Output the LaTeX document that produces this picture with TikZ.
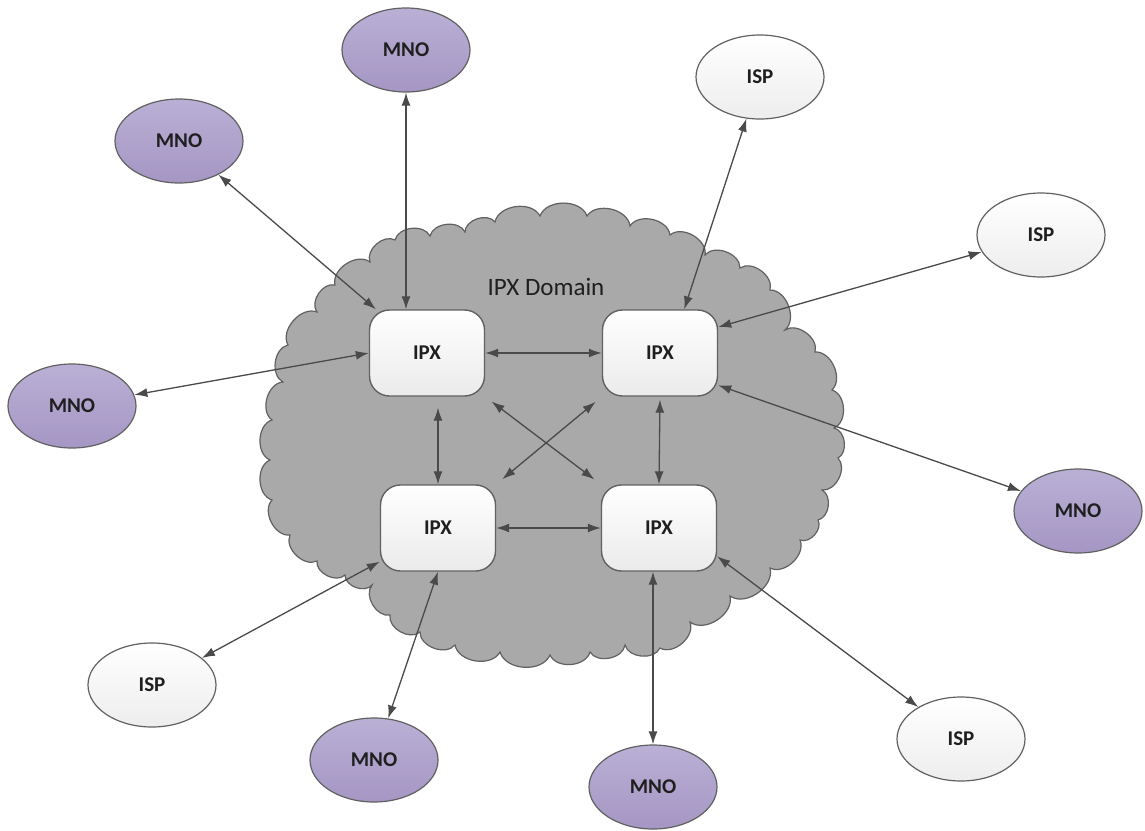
\documentclass[tikz,border=0pt]{standalone}
\usepackage{fontspec}
\setmainfont{Carlito}
\usetikzlibrary{arrows.meta,shapes.geometric}
\definecolor{mnoTop}{HTML}{BAB0D5}
\definecolor{mnoBot}{HTML}{A596C4}
\definecolor{cloudGray}{HTML}{A9A9A9}
\definecolor{lineGray}{HTML}{4A4A4A}
\tikzset{
  mno/.style={ellipse, draw=black!62, line width=1.2pt, top color=mnoTop, bottom color=mnoBot,
    minimum width=128pt, minimum height=84pt, inner sep=0pt, text=black!88,
    font=\fontsize{21}{25}\selectfont\bfseries},
  isp/.style={mno, top color=white, bottom color=black!7},
  ipx/.style={rectangle, rounded corners=20pt, draw=black!62, line width=1.4pt,
    top color=white, bottom color=black!8, minimum width=115pt, minimum height=86pt,
    inner sep=0pt, text=black!88, font=\fontsize{21}{25}\selectfont\bfseries},
  link/.style={<->, >={Latex[length=13pt,width=9pt]}, draw=lineGray, line width=1.3pt},
}

\begin{document}
\begin{tikzpicture}[x=1pt,y=-1pt]
      \useasboundingbox (0,0) rectangle (1145,830);

      % the IPX domain cloud
      \draw [fill=cloudGray, draw=black!62, line width=1.2pt] (317,561)
        \foreach \x/\y in {290/535, 272/500, 270/460, 272/420, 283/382, 288/345, 317/312,
          335/285, 370/262, 395/240, 430/236, 465/232, 495/222, 540/216, 587/216, 630/226,
          670/235, 705/255, 740/268, 770/290, 785/330, 815/352, 832/390, 834/428, 838/458,
          822/490, 818/520, 800/540, 770/568, 730/596, 690/622, 660/648, 625/645, 590/652,
          550/655, 500/652, 455/645, 420/632, 390/615, 372/585, 345/575, 317/561}
        { to [bend left=70] (\x,\y) } -- cycle;
      \node [text=black!88, font=\fontsize{25}{30}\selectfont] (domain) at (546,287) {IPX Domain};

      \node [ipx] (ipxTL) at (427,353) {IPX};
      \node [ipx] (ipxTR) at (660,353) {IPX};
      \node [ipx] (ipxBL) at (438,528) {IPX};
      \node [ipx] (ipxBR) at (659,528) {IPX};

      \node [mno] (mnoTop) at (406,50) {MNO};
      \node [mno] (mnoUL) at (179,141) {MNO};
      \node [mno] (mnoL) at (72,406) {MNO};
      \node [mno] (mnoR) at (1078,511) {MNO};
      \node [mno] (mnoBL) at (374,760) {MNO};
      \node [mno] (mnoB) at (653,787) {MNO};

      \node [isp] (ispTop) at (760,77) {ISP};
      \node [isp] (ispR) at (1041,235) {ISP};
      \node [isp] (ispBR) at (961,739) {ISP};
      \node [isp] (ispBL) at (152,685) {ISP};

      % inside the cloud
      \draw [link] (ipxTL.east) -- (ipxTR.west);
      \draw [link] (ipxBL.east) -- (ipxBL.east -| ipxBR.west);
      \draw [link, shorten >=11pt] (ipxBL.north) -- (ipxBL.north |- ipxTL.south);
      \draw [link, shorten <=3pt] (ipxTR.south) -- (ipxBR.north);
      \draw [link, shorten <=8pt, shorten >=8pt] (ipxTL.south east) -- (ipxBR.north west);
      \draw [link, shorten <=8pt, shorten >=8pt] (ipxTR.south west) -- (ipxBL.north east);

      % operators around it
      \draw [link] (mnoTop.south) -- (mnoTop.south |- ipxTL.north);
      \draw [link] (mnoUL) -- (ipxTL);
      \draw [link] (mnoL) -- (ipxTL.west);
      \draw [link] (ispTop) -- (ipxTR.61);
      \draw [link] (ispR) -- (ipxTR.24);
      \draw [link] (mnoR) -- (ipxTR.-29);
      \draw [link] (ispBR) -- (ipxBR.-26);
      \draw [link] (mnoB.north) -- (mnoB.north |- ipxBR.south);
      \draw [link] (mnoBL) -- (ipxBL.south);
      \draw [link] (ispBL) -- (ipxBL.210);
    \end{tikzpicture}
\end{document}
